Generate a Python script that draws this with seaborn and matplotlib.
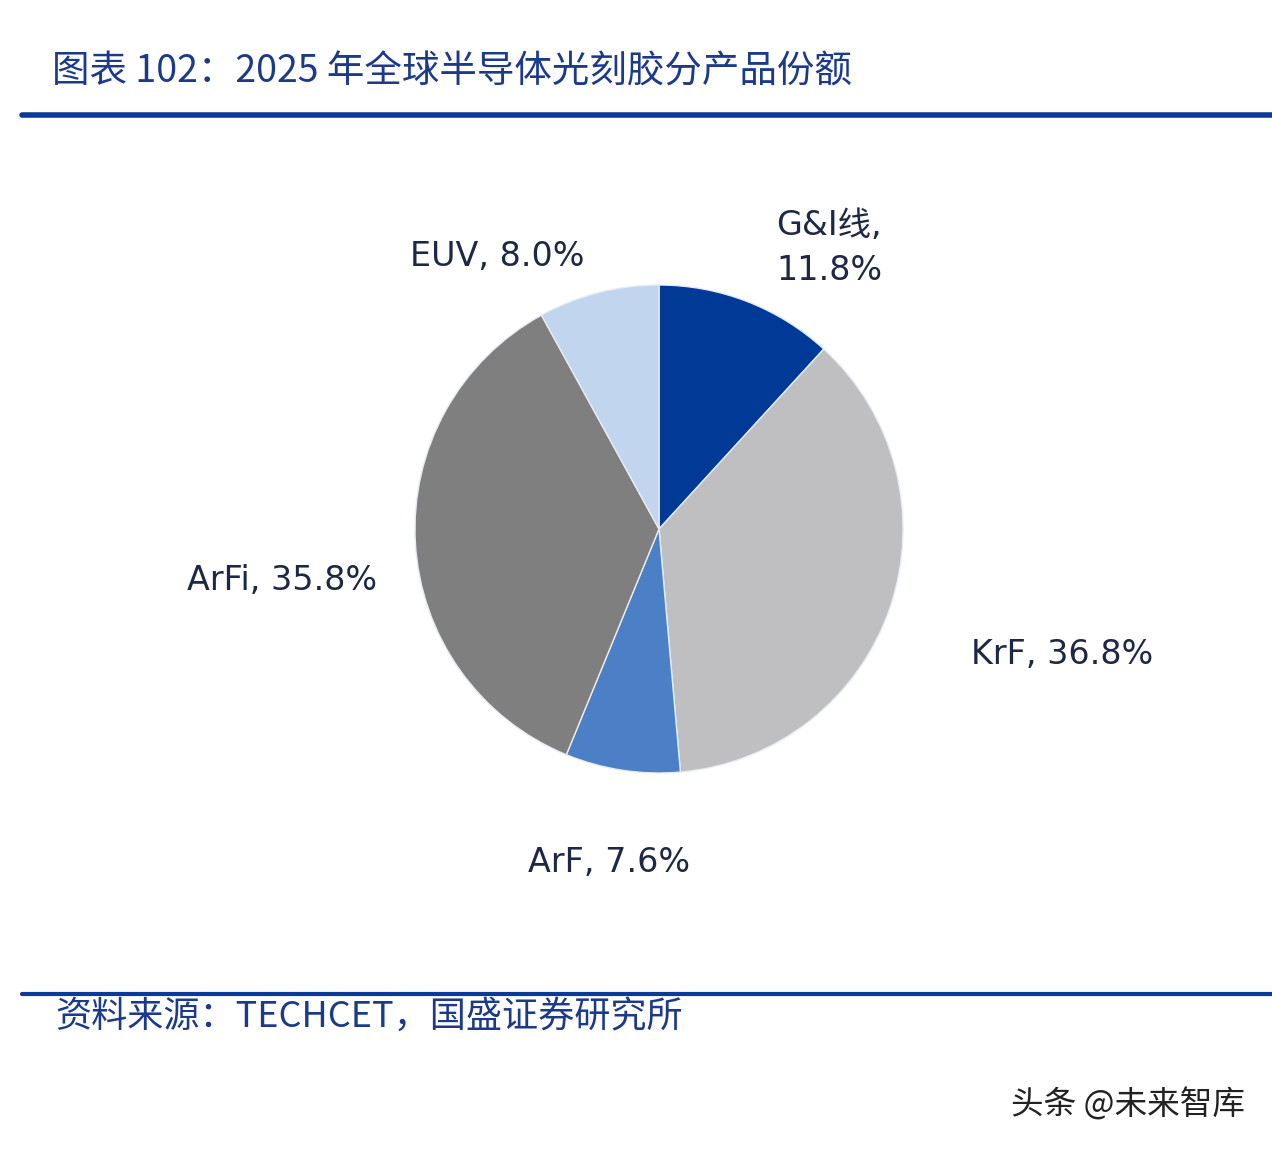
import matplotlib
matplotlib.use("Agg")
import matplotlib.pyplot as plt
import seaborn as sns
import pandas as pd

categories = ["G&I线", "KrF", "ArF", "ArFi", "EUV"]
shares = [11.8, 36.8, 7.6, 35.8, 8.0]
colors = ["#003A96", "#BFBFC1", "#4C80C6", "#7F7F7F", "#C1D5EF"]
label_texts = ["G&I线,\n11.8%", "KrF, 36.8%", "ArF, 7.6%", "ArFi, 35.8%", "EUV, 8.0%"]
title_text = "图表 102：2025 年全球半导体光刻胶分产品份额"
source_text = "资料来源：TECHCET，国盛证券研究所"
watermark_text = "头条 @未来智库"

df = pd.DataFrame({"category": categories, "share": shares})

sns.set_theme(style="white")
plt.rcParams["font.family"] = ["DejaVu Sans", "Noto Sans CJK SC"]

W, H = 1272, 1150
fig = plt.figure(figsize=(W / 100, H / 100), dpi=100)
fig.patch.set_facecolor("white")

cx, cy, r = 659, 529, 244
ax = fig.add_axes([(cx - r) / W, 1 - (cy + r) / H, 2 * r / W, 2 * r / H])
ax.pie(df["share"], colors=colors, startangle=90, counterclock=False,
       wedgeprops=dict(edgecolor="#E6ECF5", linewidth=1.0))
ax.set_xlim(-1, 1)
ax.set_ylim(-1, 1)
ax.set_aspect("equal")
ax.axis("off")

txt_color = "#1E2846"
def px(x, y):
    return x / W, 1 - y / H

# labels
label_pos = {
    "G&I线": (776, 248, "left"),
    "KrF": (1062, 655, "center"),
    "ArF": (609, 863, "center"),
    "ArFi": (282, 581, "center"),
    "EUV": (497, 257, "center"),
}
for cat, lab in zip(categories, label_texts):
    x, y, ha = label_pos[cat]
    fam = ["DejaVu Sans", "Noto Sans CJK SC"]
    fig.text(*px(x, y), lab, ha=ha, va="center", fontsize=24, color=txt_color,
             family=fam, linespacing=1.45)

# title
fig.text(*px(52, 72), title_text, ha="left", va="center", fontsize=27,
         color="#1B3A8C", family=["Noto Sans CJK SC", "DejaVu Sans"], style="italic")
fig.add_artist(plt.Line2D([22 / W, 1.0], [1 - 115 / H] * 2, color="#0A3A9A", linewidth=4))

# source
fig.add_artist(plt.Line2D([22 / W, 1.0], [1 - 994 / H] * 2, color="#0A3A9A", linewidth=3))
fig.text(*px(55, 1017), source_text, ha="left", va="center", fontsize=26,
         color="#1B3A8C", family=["Noto Sans CJK SC", "DejaVu Sans"], style="italic")

# watermark
fig.text(*px(1245, 1105), watermark_text, ha="right", va="center", fontsize=23.5,
         color="#222222", family=["Noto Sans CJK SC", "DejaVu Sans"])

fig.savefig("out.png", dpi=100, facecolor="white")
